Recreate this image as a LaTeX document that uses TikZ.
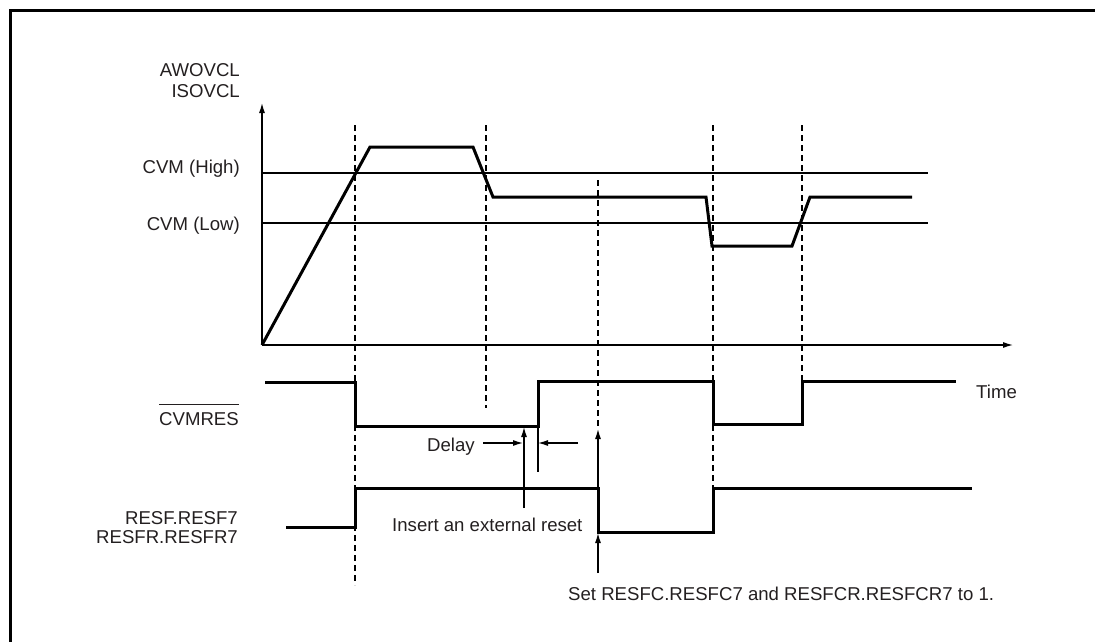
\documentclass[tikz,border=0pt]{standalone}
\usepackage{fontspec}
\setmainfont{Liberation Sans}
\usetikzlibrary{arrows.meta}
\definecolor{txt}{HTML}{231F20}
\begin{document}
\begin{tikzpicture}[x=1pt,y=-1pt,
  thinline/.style={line width=1.2pt, black},
  sig/.style={line width=3pt, black, line join=miter},
  guide/.style={line width=1.2pt, black, dash pattern=on 6pt off 4pt},
  lbl/.style={inner sep=0pt, text=txt, font=\fontsize{18.6}{20}\selectfont},
  arr/.style={line width=1.2pt, black, -{Latex[length=10pt,width=6pt]}},
]
\useasboundingbox (0,0) rectangle (1095,642);
% frame
\draw[line width=3pt] (1095,11) -- (10,11) -- (10,642);

% labels
\node[lbl, anchor=base east] (awo) at (240,77) {AWOVCL};
\node[lbl, anchor=base east] (iso) at (240,97) {ISOVCL};
\node[lbl, anchor=base east] (cvmh) at (240,173) {CVM (High)};
\node[lbl, anchor=base east] (cvml) at (240,230) {CVM (Low)};
\node[lbl, anchor=base east] (cvmres) at (239,425) {CVMRES};
\draw[line width=1.2pt, txt] ([yshift=7pt]cvmres.north west) -- ([yshift=7pt]cvmres.north east);
\node[lbl, anchor=base east] (resf) at (238,524) {RESF.RESF7};
\node[lbl, anchor=base east] (resfr) at (238,543) {RESFR.RESFR7};
\node[lbl, anchor=base west] (time) at (976,398) {Time};
\node[lbl, anchor=base west] (delay) at (427,451) {Delay};
\node[lbl, anchor=base west] (insert) at (392,531) {Insert an external reset};
\node[lbl, anchor=base west] (setl) at (568,600) {Set RESFC.RESFC7 and RESFCR.RESFCR7 to 1.};

% axes
\coordinate (o) at (262,345);
\coordinate (ytop) at (262,103);
\coordinate (xend) at (1013,345);
\draw[thinline, -{Latex[length=10pt,width=6pt]}] (o) -- (ytop);
\draw[thinline, -{Latex[length=10pt,width=6pt]}] (o) -- (xend);

% thresholds
\draw[thinline] (262,173) -- (928,173);
\draw[thinline] (262,223) -- (928,223);

% dashed guides
\draw[guide] (355,125) -- (355,585);
\draw[guide] (486,125) -- (486,408);
\draw[guide] (598,180) -- (598,428);
\draw[guide] (713,125) -- (713,488);
\draw[guide] (802,125) -- (802,381);

% voltage waveform
\draw[sig] (262,345) -- (370,147) -- (473,147) -- (493,197) -- (706,197) -- (712,246) -- (792,246) -- (810,197) -- (912,197);

% CVMRES waveform
\draw[sig] (265,382) -- (355,382) -- (355,426) -- (538,426) -- (538,381) -- (713,381) -- (713,424) -- (802,424) -- (802,381) -- (956,381);

% RESF waveform
\draw[sig] (286,527) -- (355,527) -- (355,488) -- (598,488) -- (598,532) -- (713,532) -- (713,488) -- (972,488);

% delay marks
\coordinate (d1s) at (483,443);
\coordinate (d1e) at (523,443);
\coordinate (d2s) at (578,443);
\coordinate (d2e) at (538,443);
\coordinate (dbt) at (538,427);
\coordinate (dbb) at (538,472);
\draw[arr] (d1s) -- (d1e);
\draw[arr] (d2s) -- (d2e);
\draw[thinline] (dbt) -- (dbb);

% insert reset arrow
\coordinate (ins) at (524,508);
\coordinate (inse) at (524,427);
\draw[arr] (ins) -- (inse);

% set arrows
\coordinate (s1s) at (598,488);
\coordinate (s1e) at (598,429);
\coordinate (s2s) at (598,573);
\coordinate (s2e) at (598,533);
\draw[arr] (s1s) -- (s1e);
\draw[arr] (s2s) -- (s2e);
\end{tikzpicture}
\end{document}
